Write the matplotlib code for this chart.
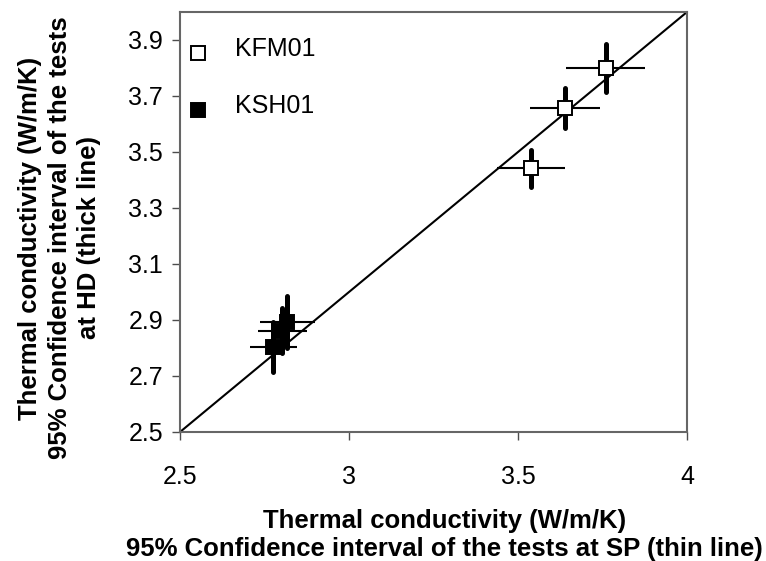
import matplotlib
matplotlib.use("Agg")
import matplotlib.pyplot as plt
from matplotlib.legend_handler import HandlerLine2D

plt.rcParams['font.family'] = ['Liberation Sans', 'DejaVu Sans']

# KFM01: conductivity at SP (x) vs HD (y), with 95% confidence half-widths
kfm_sp = [3.760, 3.640, 3.538]
kfm_hd = [3.799, 3.656, 3.442]
kfm_sp_ci = [0.117, 0.104, 0.100]
kfm_hd_ci = [0.085, 0.071, 0.066]

# KSH01
ksh_sp = [2.818, 2.803, 2.776]
ksh_hd = [2.892, 2.862, 2.805]
ksh_sp_ci = [0.081, 0.072, 0.069]
ksh_hd_ci = [0.092, 0.080, 0.089]

xticks = [2.5, 3.0, 3.5, 4.0]
xticklabels = ['2.5', '3', '3.5', '4']
yticks = [2.5, 2.7, 2.9, 3.1, 3.3, 3.5, 3.7, 3.9]
yticklabels = ['2.5', '2.7', '2.9', '3.1', '3.3', '3.5', '3.7', '3.9']


class MarkerBelow(HandlerLine2D):
    # legend marker sits a bit lower than the text centre
    def create_artists(self, legend, orig_handle, xdescent, ydescent,
                       width, height, fontsize, trans):
        return super().create_artists(legend, orig_handle, xdescent,
                                      ydescent + 8.6, width, height,
                                      fontsize, trans)


fig = plt.figure(figsize=(7.66, 5.61), dpi=100)
ax = fig.add_axes([180 / 766, 1 - 432 / 561, 507 / 766, 420 / 561])

# 1:1 line
ax.plot([2.5, 4.0], [2.5, 4.0], color='black', lw=1.5, zorder=2)


def draw_series(xs, ys, xe, ye, face, label):
    # thin line: SP interval, thick line: HD interval
    ax.errorbar(xs, ys, xerr=xe, fmt='none', ecolor='black', elinewidth=1.5,
                capsize=0, zorder=3)
    eb = ax.errorbar(xs, ys, yerr=ye, fmt='none', ecolor='black',
                     elinewidth=3.6, capsize=0, zorder=3)
    eb.lines[2][0].set_capstyle('round')
    h, = ax.plot(xs, ys, 's', ms=9.5, mfc=face, mec='black', mew=1.4,
                 linestyle='none', zorder=4, label=label)
    return h


h1 = draw_series(kfm_sp, kfm_hd, kfm_sp_ci, kfm_hd_ci, 'white', 'KFM01')
h2 = draw_series(ksh_sp, ksh_hd, ksh_sp_ci, ksh_hd_ci, 'black', 'KSH01')

ax.set_xlim(2.5, 4.0)
ax.set_ylim(2.5, 4.0)
ax.set_xticks(xticks)
ax.set_xticklabels(xticklabels)
ax.set_yticks(yticks)
ax.set_yticklabels(yticklabels)

for s in ax.spines.values():
    s.set_color('0.4')
    s.set_linewidth(1.5)
ax.tick_params(axis='both', direction='out', length=5.8, width=1.0,
               color='0.3', labelsize=18)
ax.tick_params(axis='x', pad=18)
ax.tick_params(axis='y', pad=6.5)

ax.set_xlabel('Thermal conductivity (W/m/K)\n'
              '95% Confidence interval of the tests at SP (thin line)',
              fontsize=18.5, fontweight='bold', linespacing=1.22)
ax.xaxis.set_label_coords(0.521, -0.183)
ax.set_ylabel('Thermal conductivity (W/m/K)\n'
              '95% Confidence interval of the tests\n'
              'at HD (thick line)',
              fontsize=18.5, fontweight='bold', linespacing=1.3)
ax.yaxis.set_label_coords(-0.155, 0.462)

ax.legend(handles=[h1, h2], loc='upper left', bbox_to_anchor=(0.01, 0.94),
          frameon=False, fontsize=18, handlelength=1.0, handletextpad=1.0,
          labelspacing=1.31, borderpad=0, borderaxespad=0, numpoints=1,
          handler_map={h1: MarkerBelow(), h2: MarkerBelow()})

fig.savefig('out.png', dpi=100)
